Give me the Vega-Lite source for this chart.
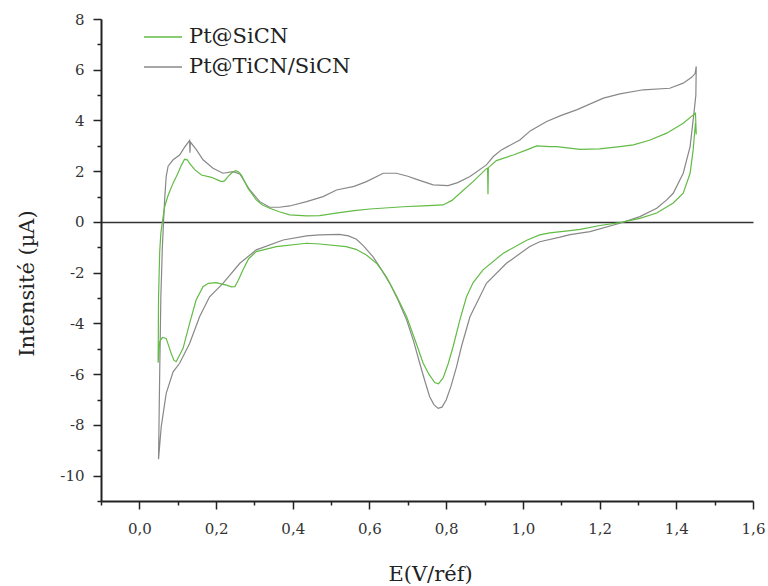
{
  "$schema": "https://vega.github.io/schema/vega-lite/v6.json",
  "width": 652,
  "height": 482,
  "autosize": "none",
  "padding": {"left": 101, "top": 19, "right": 15, "bottom": 85},
  "background": "white",
  "config": {
    "view": {"stroke": null},
    "font": "DejaVu Serif"
  },
  "data": {"values": [
      {"s":"Pt@TiCN/SiCN","x":0.050,"y":-9.35},{"s":"Pt@TiCN/SiCN","x":0.053,"y":-6.0},{"s":"Pt@TiCN/SiCN","x":0.056,"y":-3.0},{"s":"Pt@TiCN/SiCN","x":0.060,"y":-1.0},{"s":"Pt@TiCN/SiCN","x":0.063,"y":0.0},{"s":"Pt@TiCN/SiCN","x":0.066,"y":0.9},{"s":"Pt@TiCN/SiCN","x":0.070,"y":1.8},{"s":"Pt@TiCN/SiCN","x":0.075,"y":2.2},{"s":"Pt@TiCN/SiCN","x":0.088,"y":2.45},{"s":"Pt@TiCN/SiCN","x":0.105,"y":2.64},{"s":"Pt@TiCN/SiCN","x":0.118,"y":2.95},{"s":"Pt@TiCN/SiCN","x":0.131,"y":3.21},{"s":"Pt@TiCN/SiCN","x":0.132,"y":2.73},{"s":"Pt@TiCN/SiCN","x":0.133,"y":3.15},{"s":"Pt@TiCN/SiCN","x":0.149,"y":2.84},{"s":"Pt@TiCN/SiCN","x":0.166,"y":2.45},{"s":"Pt@TiCN/SiCN","x":0.192,"y":2.12},{"s":"Pt@TiCN/SiCN","x":0.218,"y":1.92},{"s":"Pt@TiCN/SiCN","x":0.244,"y":1.98},{"s":"Pt@TiCN/SiCN","x":0.262,"y":1.89},{"s":"Pt@TiCN/SiCN","x":0.288,"y":1.26},{"s":"Pt@TiCN/SiCN","x":0.314,"y":0.80},{"s":"Pt@TiCN/SiCN","x":0.340,"y":0.58},{"s":"Pt@TiCN/SiCN","x":0.365,"y":0.58},{"s":"Pt@TiCN/SiCN","x":0.392,"y":0.63},{"s":"Pt@TiCN/SiCN","x":0.436,"y":0.80},{"s":"Pt@TiCN/SiCN","x":0.479,"y":1.00},{"s":"Pt@TiCN/SiCN","x":0.514,"y":1.26},{"s":"Pt@TiCN/SiCN","x":0.560,"y":1.40},{"s":"Pt@TiCN/SiCN","x":0.592,"y":1.59},{"s":"Pt@TiCN/SiCN","x":0.636,"y":1.92},{"s":"Pt@TiCN/SiCN","x":0.670,"y":1.92},{"s":"Pt@TiCN/SiCN","x":0.700,"y":1.80},{"s":"Pt@TiCN/SiCN","x":0.723,"y":1.68},{"s":"Pt@TiCN/SiCN","x":0.766,"y":1.46},{"s":"Pt@TiCN/SiCN","x":0.805,"y":1.43},{"s":"Pt@TiCN/SiCN","x":0.830,"y":1.55},{"s":"Pt@TiCN/SiCN","x":0.862,"y":1.79},{"s":"Pt@TiCN/SiCN","x":0.905,"y":2.25},{"s":"Pt@TiCN/SiCN","x":0.923,"y":2.58},{"s":"Pt@TiCN/SiCN","x":0.944,"y":2.84},{"s":"Pt@TiCN/SiCN","x":0.992,"y":3.23},{"s":"Pt@TiCN/SiCN","x":1.020,"y":3.60},{"s":"Pt@TiCN/SiCN","x":1.062,"y":3.96},{"s":"Pt@TiCN/SiCN","x":1.100,"y":4.20},{"s":"Pt@TiCN/SiCN","x":1.140,"y":4.42},{"s":"Pt@TiCN/SiCN","x":1.210,"y":4.88},{"s":"Pt@TiCN/SiCN","x":1.253,"y":5.05},{"s":"Pt@TiCN/SiCN","x":1.314,"y":5.21},{"s":"Pt@TiCN/SiCN","x":1.383,"y":5.27},{"s":"Pt@TiCN/SiCN","x":1.418,"y":5.47},{"s":"Pt@TiCN/SiCN","x":1.440,"y":5.70},{"s":"Pt@TiCN/SiCN","x":1.449,"y":5.85},{"s":"Pt@TiCN/SiCN","x":1.452,"y":6.13},{"s":"Pt@TiCN/SiCN","x":1.451,"y":5.0},{"s":"Pt@TiCN/SiCN","x":1.446,"y":4.29},{"s":"Pt@TiCN/SiCN","x":1.436,"y":2.97},{"s":"Pt@TiCN/SiCN","x":1.418,"y":1.92},{"s":"Pt@TiCN/SiCN","x":1.392,"y":1.13},{"s":"Pt@TiCN/SiCN","x":1.375,"y":0.87},{"s":"Pt@TiCN/SiCN","x":1.349,"y":0.54},{"s":"Pt@TiCN/SiCN","x":1.305,"y":0.21},{"s":"Pt@TiCN/SiCN","x":1.253,"y":-0.05},{"s":"Pt@TiCN/SiCN","x":1.175,"y":-0.38},{"s":"Pt@TiCN/SiCN","x":1.123,"y":-0.50},{"s":"Pt@TiCN/SiCN","x":1.097,"y":-0.60},{"s":"Pt@TiCN/SiCN","x":1.044,"y":-0.78},{"s":"Pt@TiCN/SiCN","x":1.018,"y":-0.97},{"s":"Pt@TiCN/SiCN","x":0.957,"y":-1.63},{"s":"Pt@TiCN/SiCN","x":0.905,"y":-2.42},{"s":"Pt@TiCN/SiCN","x":0.862,"y":-3.74},{"s":"Pt@TiCN/SiCN","x":0.840,"y":-4.9},{"s":"Pt@TiCN/SiCN","x":0.827,"y":-5.71},{"s":"Pt@TiCN/SiCN","x":0.812,"y":-6.5},{"s":"Pt@TiCN/SiCN","x":0.800,"y":-7.02},{"s":"Pt@TiCN/SiCN","x":0.789,"y":-7.3},{"s":"Pt@TiCN/SiCN","x":0.779,"y":-7.35},{"s":"Pt@TiCN/SiCN","x":0.768,"y":-7.2},{"s":"Pt@TiCN/SiCN","x":0.757,"y":-6.89},{"s":"Pt@TiCN/SiCN","x":0.745,"y":-6.3},{"s":"Pt@TiCN/SiCN","x":0.731,"y":-5.57},{"s":"Pt@TiCN/SiCN","x":0.715,"y":-4.7},{"s":"Pt@TiCN/SiCN","x":0.697,"y":-3.87},{"s":"Pt@TiCN/SiCN","x":0.675,"y":-3.1},{"s":"Pt@TiCN/SiCN","x":0.653,"y":-2.42},{"s":"Pt@TiCN/SiCN","x":0.630,"y":-1.85},{"s":"Pt@TiCN/SiCN","x":0.609,"y":-1.37},{"s":"Pt@TiCN/SiCN","x":0.585,"y":-0.95},{"s":"Pt@TiCN/SiCN","x":0.566,"y":-0.68},{"s":"Pt@TiCN/SiCN","x":0.545,"y":-0.55},{"s":"Pt@TiCN/SiCN","x":0.522,"y":-0.49},{"s":"Pt@TiCN/SiCN","x":0.470,"y":-0.51},{"s":"Pt@TiCN/SiCN","x":0.436,"y":-0.55},{"s":"Pt@TiCN/SiCN","x":0.375,"y":-0.71},{"s":"Pt@TiCN/SiCN","x":0.305,"y":-1.10},{"s":"Pt@TiCN/SiCN","x":0.262,"y":-1.63},{"s":"Pt@TiCN/SiCN","x":0.218,"y":-2.42},{"s":"Pt@TiCN/SiCN","x":0.183,"y":-2.95},{"s":"Pt@TiCN/SiCN","x":0.157,"y":-3.74},{"s":"Pt@TiCN/SiCN","x":0.131,"y":-4.79},{"s":"Pt@TiCN/SiCN","x":0.105,"y":-5.57},{"s":"Pt@TiCN/SiCN","x":0.088,"y":-5.91},{"s":"Pt@TiCN/SiCN","x":0.070,"y":-6.76},{"s":"Pt@TiCN/SiCN","x":0.057,"y":-8.08},{"s":"Pt@TiCN/SiCN","x":0.050,"y":-9.35},
      {"s":"Pt@SiCN","x":0.049,"y":-5.55},{"s":"Pt@SiCN","x":0.050,"y":-3.0},{"s":"Pt@SiCN","x":0.053,"y":-1.2},{"s":"Pt@SiCN","x":0.056,"y":-0.45},{"s":"Pt@SiCN","x":0.060,"y":0.0},{"s":"Pt@SiCN","x":0.066,"y":0.6},{"s":"Pt@SiCN","x":0.075,"y":1.05},{"s":"Pt@SiCN","x":0.088,"y":1.53},{"s":"Pt@SiCN","x":0.100,"y":1.90},{"s":"Pt@SiCN","x":0.110,"y":2.25},{"s":"Pt@SiCN","x":0.118,"y":2.47},{"s":"Pt@SiCN","x":0.125,"y":2.45},{"s":"Pt@SiCN","x":0.131,"y":2.31},{"s":"Pt@SiCN","x":0.145,"y":2.05},{"s":"Pt@SiCN","x":0.162,"y":1.85},{"s":"Pt@SiCN","x":0.188,"y":1.76},{"s":"Pt@SiCN","x":0.205,"y":1.65},{"s":"Pt@SiCN","x":0.214,"y":1.59},{"s":"Pt@SiCN","x":0.222,"y":1.62},{"s":"Pt@SiCN","x":0.231,"y":1.79},{"s":"Pt@SiCN","x":0.242,"y":1.95},{"s":"Pt@SiCN","x":0.251,"y":2.02},{"s":"Pt@SiCN","x":0.258,"y":1.98},{"s":"Pt@SiCN","x":0.266,"y":1.85},{"s":"Pt@SiCN","x":0.283,"y":1.33},{"s":"Pt@SiCN","x":0.305,"y":0.87},{"s":"Pt@SiCN","x":0.320,"y":0.68},{"s":"Pt@SiCN","x":0.340,"y":0.54},{"s":"Pt@SiCN","x":0.365,"y":0.40},{"s":"Pt@SiCN","x":0.392,"y":0.28},{"s":"Pt@SiCN","x":0.436,"y":0.24},{"s":"Pt@SiCN","x":0.470,"y":0.25},{"s":"Pt@SiCN","x":0.522,"y":0.37},{"s":"Pt@SiCN","x":0.560,"y":0.45},{"s":"Pt@SiCN","x":0.601,"y":0.51},{"s":"Pt@SiCN","x":0.650,"y":0.56},{"s":"Pt@SiCN","x":0.688,"y":0.60},{"s":"Pt@SiCN","x":0.740,"y":0.63},{"s":"Pt@SiCN","x":0.792,"y":0.67},{"s":"Pt@SiCN","x":0.815,"y":0.85},{"s":"Pt@SiCN","x":0.836,"y":1.13},{"s":"Pt@SiCN","x":0.870,"y":1.59},{"s":"Pt@SiCN","x":0.905,"y":2.10},{"s":"Pt@SiCN","x":0.908,"y":2.12},{"s":"Pt@SiCN","x":0.909,"y":1.09},{"s":"Pt@SiCN","x":0.910,"y":2.14},{"s":"Pt@SiCN","x":0.931,"y":2.42},{"s":"Pt@SiCN","x":0.975,"y":2.64},{"s":"Pt@SiCN","x":1.010,"y":2.84},{"s":"Pt@SiCN","x":1.036,"y":3.00},{"s":"Pt@SiCN","x":1.070,"y":2.97},{"s":"Pt@SiCN","x":1.088,"y":2.97},{"s":"Pt@SiCN","x":1.149,"y":2.86},{"s":"Pt@SiCN","x":1.200,"y":2.88},{"s":"Pt@SiCN","x":1.253,"y":2.97},{"s":"Pt@SiCN","x":1.288,"y":3.04},{"s":"Pt@SiCN","x":1.330,"y":3.22},{"s":"Pt@SiCN","x":1.375,"y":3.50},{"s":"Pt@SiCN","x":1.418,"y":3.89},{"s":"Pt@SiCN","x":1.450,"y":4.29},{"s":"Pt@SiCN","x":1.452,"y":3.45},{"s":"Pt@SiCN","x":1.450,"y":3.9},{"s":"Pt@SiCN","x":1.446,"y":3.2},{"s":"Pt@SiCN","x":1.444,"y":2.84},{"s":"Pt@SiCN","x":1.436,"y":1.92},{"s":"Pt@SiCN","x":1.418,"y":1.13},{"s":"Pt@SiCN","x":1.392,"y":0.75},{"s":"Pt@SiCN","x":1.349,"y":0.35},{"s":"Pt@SiCN","x":1.305,"y":0.14},{"s":"Pt@SiCN","x":1.253,"y":-0.03},{"s":"Pt@SiCN","x":1.201,"y":-0.14},{"s":"Pt@SiCN","x":1.149,"y":-0.29},{"s":"Pt@SiCN","x":1.123,"y":-0.34},{"s":"Pt@SiCN","x":1.070,"y":-0.43},{"s":"Pt@SiCN","x":1.044,"y":-0.51},{"s":"Pt@SiCN","x":1.010,"y":-0.72},{"s":"Pt@SiCN","x":0.949,"y":-1.23},{"s":"Pt@SiCN","x":0.896,"y":-1.89},{"s":"Pt@SiCN","x":0.870,"y":-2.4},{"s":"Pt@SiCN","x":0.853,"y":-2.95},{"s":"Pt@SiCN","x":0.835,"y":-3.9},{"s":"Pt@SiCN","x":0.818,"y":-4.92},{"s":"Pt@SiCN","x":0.805,"y":-5.6},{"s":"Pt@SiCN","x":0.792,"y":-6.15},{"s":"Pt@SiCN","x":0.780,"y":-6.38},{"s":"Pt@SiCN","x":0.770,"y":-6.33},{"s":"Pt@SiCN","x":0.755,"y":-6.0},{"s":"Pt@SiCN","x":0.740,"y":-5.57},{"s":"Pt@SiCN","x":0.720,"y":-4.7},{"s":"Pt@SiCN","x":0.697,"y":-3.74},{"s":"Pt@SiCN","x":0.670,"y":-2.9},{"s":"Pt@SiCN","x":0.644,"y":-2.16},{"s":"Pt@SiCN","x":0.620,"y":-1.65},{"s":"Pt@SiCN","x":0.592,"y":-1.30},{"s":"Pt@SiCN","x":0.565,"y":-1.08},{"s":"Pt@SiCN","x":0.539,"y":-0.97},{"s":"Pt@SiCN","x":0.470,"y":-0.87},{"s":"Pt@SiCN","x":0.436,"y":-0.84},{"s":"Pt@SiCN","x":0.357,"y":-0.97},{"s":"Pt@SiCN","x":0.305,"y":-1.17},{"s":"Pt@SiCN","x":0.285,"y":-1.45},{"s":"Pt@SiCN","x":0.270,"y":-1.89},{"s":"Pt@SiCN","x":0.258,"y":-2.3},{"s":"Pt@SiCN","x":0.249,"y":-2.55},{"s":"Pt@SiCN","x":0.240,"y":-2.56},{"s":"Pt@SiCN","x":0.227,"y":-2.49},{"s":"Pt@SiCN","x":0.200,"y":-2.39},{"s":"Pt@SiCN","x":0.180,"y":-2.42},{"s":"Pt@SiCN","x":0.166,"y":-2.55},{"s":"Pt@SiCN","x":0.148,"y":-3.08},{"s":"Pt@SiCN","x":0.131,"y":-4.00},{"s":"Pt@SiCN","x":0.114,"y":-4.98},{"s":"Pt@SiCN","x":0.096,"y":-5.51},{"s":"Pt@SiCN","x":0.090,"y":-5.45},{"s":"Pt@SiCN","x":0.083,"y":-5.18},{"s":"Pt@SiCN","x":0.070,"y":-4.59},{"s":"Pt@SiCN","x":0.060,"y":-4.55},{"s":"Pt@SiCN","x":0.053,"y":-4.72},{"s":"Pt@SiCN","x":0.049,"y":-5.55}
  ]},
  "mark": {"type": "line", "strokeWidth": 1.2, "clip": true},
  "encoding": {
    "x": {
      "field": "x", "type": "quantitative",
      "scale": {"domain": [-0.1, 1.6], "nice": false, "zero": false},
      "axis": {
        "title": "E(V/réf)",
        "values": [-0.1,0,0.1,0.2,0.3,0.4,0.5,0.6,0.7,0.8,0.9,1.0,1.1,1.2,1.3,1.4,1.5,1.6],
        "labelExpr": "abs(datum.value*5 - round(datum.value*5)) < 0.001 ? replace(format(datum.value, '.1f'), '.', ',') : ''",
        "labelFont": "DejaVu Serif", "labelFontSize": 15, "labelColor": "#333333",
        "labelPadding": 12, "labelFlush": false, "labelOverlap": false,
        "tickSize": {"condition": {"test": "abs(datum.value*5 - round(datum.value*5)) < 0.001", "value": 8}, "value": 4},
        "tickColor": "#222222", "tickWidth": 1.5,
        "domainColor": "#222222", "domainWidth": 2,
        "grid": false,
        "titleFont": "DejaVu Serif", "titleFontSize": 21, "titleFontWeight": "normal", "titleColor": "#222222",
        "titleBaseline": "alphabetic", "titleX": 329, "titleY": 79
      }
    },
    "y": {
      "field": "y", "type": "quantitative",
      "scale": {"domain": [-11, 8], "nice": false, "zero": false},
      "axis": {
        "title": "Intensité (µA)",
        "values": [-11,-10,-9,-8,-7,-6,-5,-4,-3,-2,-1,0,1,2,3,4,5,6,7,8],
        "labelExpr": "(datum.value % 2 == 0) ? replace(datum.label, '−', '-') : ''",
        "labelFont": "DejaVu Serif", "labelFontSize": 15, "labelColor": "#333333",
        "labelPadding": 9, "labelFlush": false, "labelOverlap": false,
        "tickSize": {"condition": {"test": "datum.value % 2 == 0", "value": 8}, "value": 4},
        "tickColor": "#222222", "tickWidth": 1.5,
        "domainColor": "#222222", "domainWidth": 2,
        "grid": true,
        "gridColor": "#333333", "gridWidth": 1.6,
        "gridOpacity": {"condition": {"test": "datum.value == 0", "value": 1}, "value": 0},
        "titleFont": "DejaVu Serif", "titleFontSize": 21, "titleFontWeight": "normal", "titleColor": "#222222",
        "titleX": -64, "titleY": 264
      }
    },
    "color": {
      "field": "s", "type": "nominal",
      "scale": {"domain": ["Pt@SiCN", "Pt@TiCN/SiCN"], "range": ["#62bb45", "#888888"]},
      "legend": {
        "title": null,
        "orient": "none", "legendX": 42, "legendY": -2,
        "symbolType": "stroke", "symbolSize": 1444, "symbolStrokeWidth": 1.5,
        "labelFont": "DejaVu Serif", "labelFontSize": 21, "labelColor": "#222222", "labelLimit": 400,
        "labelOffset": 6, "rowPadding": 0, "padding": 0
      }
    },
    "order": {"value": null}
  }
}
